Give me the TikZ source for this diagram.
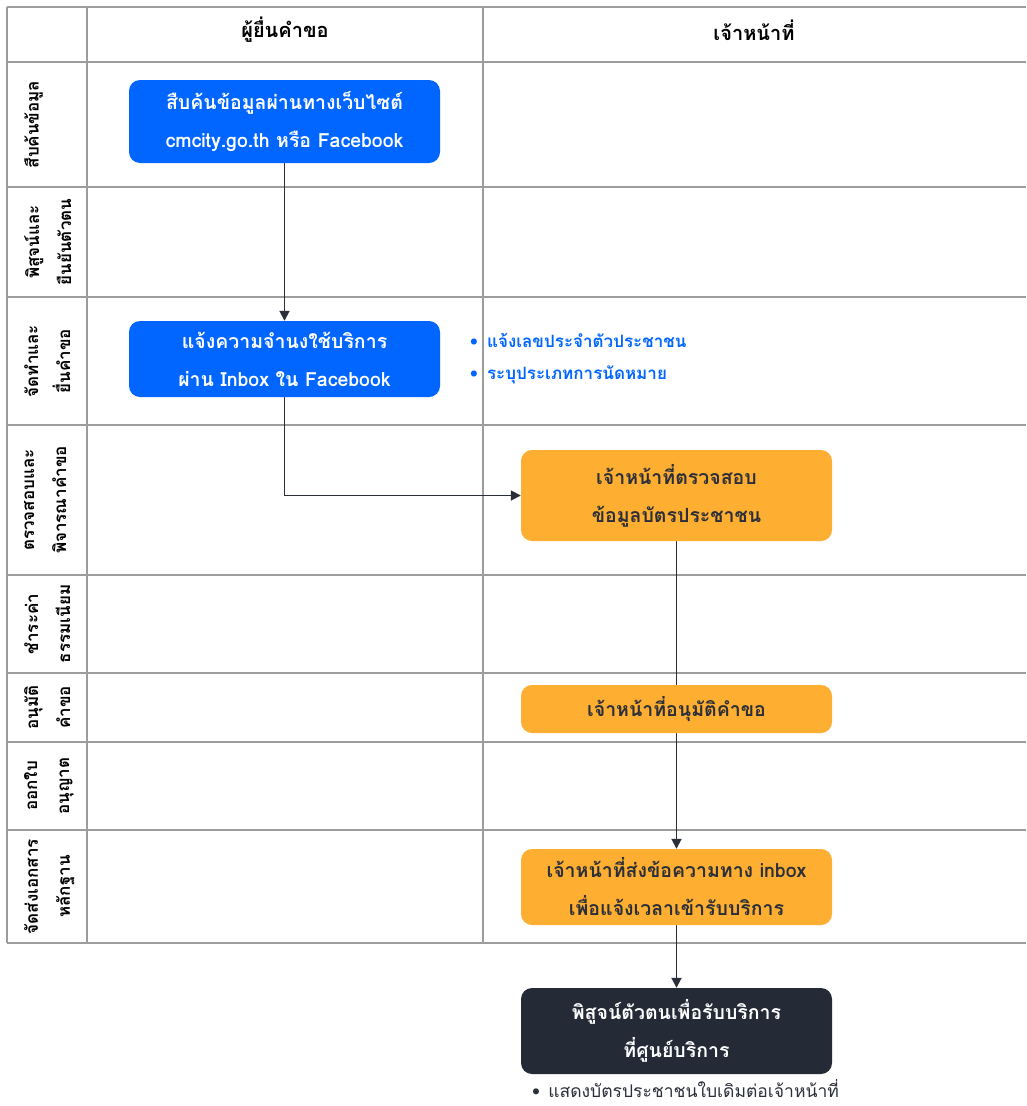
\documentclass[tikz,border=0pt]{standalone}
\usepackage{fontspec}
\newfontfamily\thaifont[Script=Thai]{Loma}
\usetikzlibrary{arrows.meta}
\definecolor{gridgray}{HTML}{9C9C9C}
\definecolor{fbblue}{HTML}{0066FF}
\definecolor{staffor}{HTML}{FEAE30}
\definecolor{darkbox}{HTML}{242A36}
\definecolor{inkdark}{HTML}{2B2F3A}
\pgfdeclarelayer{paper}
\pgfdeclarelayer{grid}
\pgfdeclarelayer{links}
\pgfsetlayers{paper,grid,links,main}
\tikzset{
  gridline/.style={draw=gridgray, line width=1.2pt},
  stepbox/.style={rounded corners=11pt, minimum width=311pt, inner sep=0pt,
    align=center, font=\thaifont\bfseries\fontsize{19.5}{38}\selectfont},
  userbox/.style={stepbox, fill=fbblue, text=white},
  staffbox/.style={stepbox, fill=staffor, text=inkdark},
  finalbox/.style={stepbox, fill=darkbox, text=white},
  lanelabel/.style={rotate=90, anchor=north, align=center, inner sep=0pt,
    text=black, font=\thaifont\bfseries\fontsize{17}{32}\selectfont},
  colhead/.style={inner sep=0pt, font=\thaifont\bfseries\fontsize{20}{24}\selectfont},
  note/.style={anchor=west, inner sep=0pt, font=\thaifont\bfseries\fontsize{17}{20}\selectfont},
  link/.style={draw=inkdark, line width=1.8pt, -{Triangle[length=10pt,width=10pt]}}
}
\begin{document}
\begin{tikzpicture}[x=1pt,y=-1pt]
\useasboundingbox (0,0) rectangle (1026,1106);
\begin{pgfonlayer}{paper}
  \fill[white] (0,0) rectangle (1026,1106);
\end{pgfonlayer}

% swimlane table
\begin{pgfonlayer}{grid}
  \foreach \yy in {7,62,187,297,425,575,673,742,830,943}
    \draw[gridline] (7,\yy) -- (1026,\yy);
  \foreach \xx in {7,87,483}
    \draw[gridline] (\xx,7) -- (\xx,943);
\end{pgfonlayer}

% column headings
\node[colhead] (hApplicant) at (285,30) {ผู้ยื่นคำขอ};
\node[colhead] (hStaff) at (754,30) {เจ้าหน้าที่};

% lane labels
\node[lanelabel] (l1) at (24,124.5) {สืบค้นข้อมูล};
\node[lanelabel] (l2) at (24,242) {พิสูจน์และ\\ยืนยันตัวตน};
\node[lanelabel] (l3) at (24,361) {จัดทำและ\\ยื่นคำขอ};
\node[lanelabel] (l4) at (24,500) {ตรวจสอบและ\\พิจารณาคำขอ};
\node[lanelabel] (l5) at (24,624) {ชำระค่า\\ธรรมเนียม};
\node[lanelabel] (l6) at (24,707.5) {อนุมัติ\\คำขอ};
\node[lanelabel] (l7) at (24,786) {ออกใบ\\อนุญาต};
\node[lanelabel] (l8) at (24,886.5) {จัดส่งเอกสาร\\หลักฐาน};

% process steps
\node[userbox, minimum height=83pt] (search) at (284.5,121.5)
  {สืบค้นข้อมูลผ่านทางเว็บไซต์\\cmcity.go.th หรือ Facebook};
\node[userbox, minimum height=76pt] (notify) at (284.5,359)
  {แจ้งความจำนงใช้บริการ\\ผ่าน Inbox ใน Facebook};
\node[staffbox, minimum height=91pt] (check) at (676.5,495.5)
  {เจ้าหน้าที่ตรวจสอบ\\ข้อมูลบัตรประชาชน};
\node[staffbox, minimum height=48pt] (approve) at (676.5,709)
  {เจ้าหน้าที่อนุมัติคำขอ};
\node[staffbox, minimum height=76pt] (reply) at (676.5,887)
  {เจ้าหน้าที่ส่งข้อความทาง inbox\\เพื่อแจ้งเวลาเข้ารับบริการ};
\node[finalbox, minimum height=86pt] (verify) at (676.5,1031)
  {พิสูจน์ตัวตนเพื่อรับบริการ\\ที่ศูนย์บริการ};

% notes
\node[note, text=fbblue] (n1) at (470,340) {•\hspace{9pt}แจ้งเลขประจำตัวประชาชน};
\node[note, text=fbblue] (n2) at (470,375) {•\hspace{9pt}ระบุประเภทการนัดหมาย};
\node[note, text=inkdark, font=\thaifont\fontsize{17.5}{20}\selectfont] (n3) at (532,1089)
  {•\hspace{8pt}แสดงบัตรประชาชนใบเดิมต่อเจ้าหน้าที่};

% connectors
\begin{pgfonlayer}{links}
  \draw[link] (search.south) -- (notify.north);
  \draw[link] (notify.south) |- (check.west);
  \draw[link] (check.south) -- (reply.north);
  \draw[link] (reply.south) -- (verify.north);
\end{pgfonlayer}
\end{tikzpicture}
\end{document}
